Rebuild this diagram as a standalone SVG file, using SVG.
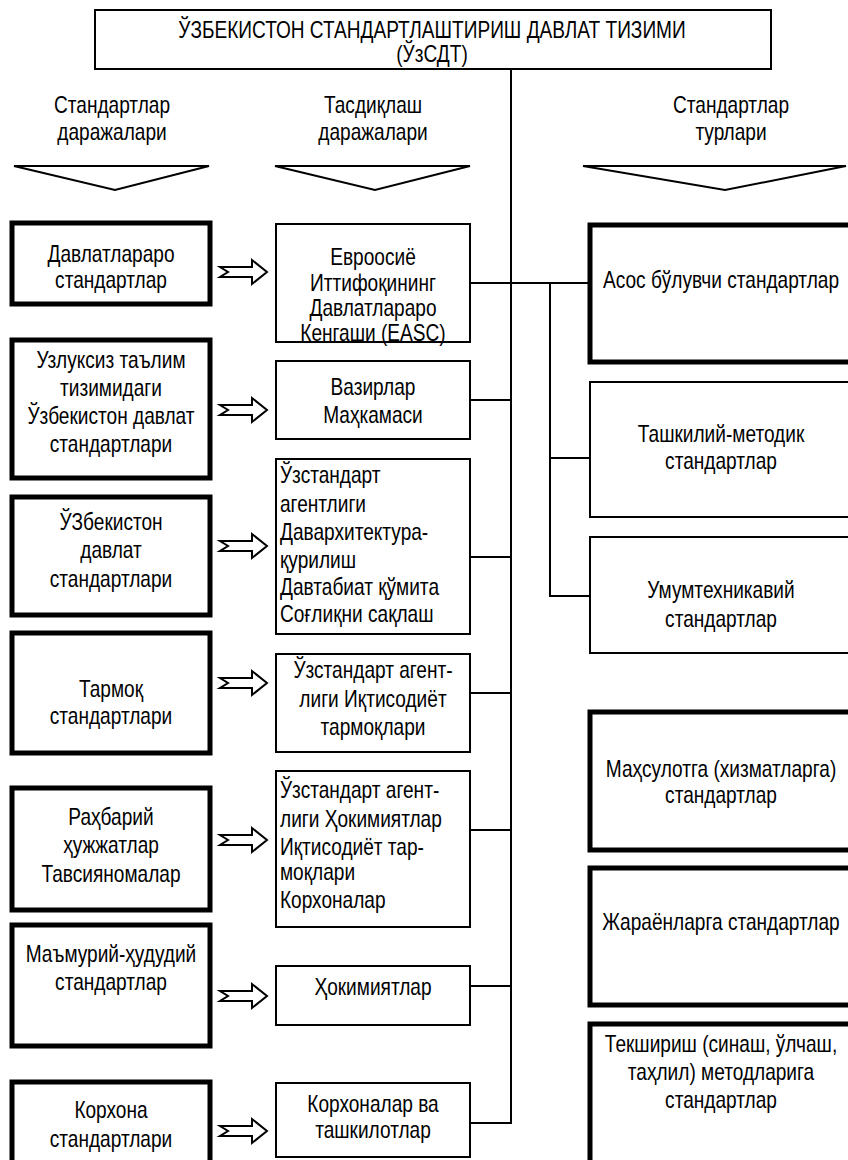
<svg xmlns="http://www.w3.org/2000/svg" width="848" height="1160" viewBox="0 0 848 1160">
<style>
text{font-family:"Liberation Sans",Arial,sans-serif;font-size:23px;fill:#000}
.c{text-anchor:middle}
.l{text-anchor:start}
.thick{fill:#fff;stroke:#000;stroke-width:5}
.thin{fill:#fff;stroke:#000;stroke-width:2}
.ln{fill:none;stroke:#000;stroke-width:2}
.tri{fill:#fff;stroke:#000;stroke-width:2;stroke-linejoin:miter}
.arr{fill:#fff;stroke:#000;stroke-width:2;stroke-linejoin:miter}
</style>
<defs>
<polygon id="dblarrow" points="0,-5 32,-5 32,-12 47,0 32,12 32,5 0,5 8,0"/>
</defs>
<rect width="848" height="1160" fill="#fff"/>

<g id="connectors">
<line class="ln" x1="511" y1="69" x2="511" y2="1124"/>
<line class="ln" x1="470" y1="283" x2="590" y2="283"/>
<line class="ln" x1="470" y1="400" x2="511" y2="400"/>
<line class="ln" x1="470" y1="557" x2="511" y2="557"/>
<line class="ln" x1="470" y1="693" x2="511" y2="693"/>
<line class="ln" x1="470" y1="830" x2="511" y2="830"/>
<line class="ln" x1="470" y1="986" x2="511" y2="986"/>
<line class="ln" x1="470" y1="1123" x2="512" y2="1123"/>
<line class="ln" x1="550" y1="283" x2="550" y2="597"/>
<line class="ln" x1="549" y1="458" x2="590" y2="458"/>
<line class="ln" x1="549" y1="596" x2="590" y2="596"/>
<use href="#dblarrow" class="arr" x="220" y="272"/>
<use href="#dblarrow" class="arr" x="220" y="410"/>
<use href="#dblarrow" class="arr" x="220" y="546"/>
<use href="#dblarrow" class="arr" x="220" y="683"/>
<use href="#dblarrow" class="arr" x="220" y="840"/>
<use href="#dblarrow" class="arr" x="220" y="996"/>
<use href="#dblarrow" class="arr" x="220" y="1131"/>
</g>

<g id="title">
<rect x="95" y="10" width="676" height="59" class="thin"/>
<text class="c" transform="translate(432 38) scale(.83 1)">ЎЗБЕКИСТОН СТАНДАРТЛАШТИРИШ ДАВЛАТ ТИЗИМИ</text>
<text class="c" transform="translate(432 62) scale(.83 1)">(ЎзСДТ)</text>
</g>

<g id="header-levels">
<text class="c" transform="translate(112 113) scale(.83 1)">Стандартлар</text>
<text class="c" transform="translate(112 140) scale(.83 1)">даражалари</text>
<polygon class="tri" points="14,166 209,166 115,190"/>
</g>
<g id="header-approval">
<text class="c" transform="translate(373 113) scale(.83 1)">Тасдиқлаш</text>
<text class="c" transform="translate(373 140) scale(.83 1)">даражалари</text>
<polygon class="tri" points="275,166 470,166 375,190"/>
</g>
<g id="header-types">
<text class="c" transform="translate(731 113) scale(.83 1)">Стандартлар</text>
<text class="c" transform="translate(731 140) scale(.83 1)">турлари</text>
<polygon class="tri" points="583,166 846,166 725,190"/>
</g>

<g id="lvl-interstate">
<rect x="12" y="223" width="198" height="81" class="thick"/>
<text class="c" transform="translate(111 262) scale(.83 1)">Давлатлараро</text>
<text class="c" transform="translate(111 288) scale(.83 1)">стандартлар</text>
</g>
<g id="lvl-education">
<rect x="12" y="340" width="198" height="138" class="thick"/>
<text class="c" transform="translate(111 368) scale(.83 1)">Узлуксиз таълим</text>
<text class="c" transform="translate(111 396) scale(.83 1)">тизимидаги</text>
<text class="c" transform="translate(111 424) scale(.83 1)">Ўзбекистон давлат</text>
<text class="c" transform="translate(111 452) scale(.83 1)">стандартлари</text>
</g>
<g id="lvl-state">
<rect x="12" y="497" width="198" height="118" class="thick"/>
<text class="c" transform="translate(111 530) scale(.83 1)">ЎЗбекистон</text>
<text class="c" transform="translate(111 558) scale(.83 1)">давлат</text>
<text class="c" transform="translate(111 587) scale(.83 1)">стандартлари</text>
</g>
<g id="lvl-branch">
<rect x="12" y="633" width="198" height="120" class="thick"/>
<text class="c" transform="translate(111 697) scale(.83 1)">Тармоқ</text>
<text class="c" transform="translate(111 724) scale(.83 1)">стандартлари</text>
</g>
<g id="lvl-guidance">
<rect x="12" y="788" width="198" height="122" class="thick"/>
<text class="c" transform="translate(111 825) scale(.83 1)">Раҳбарий</text>
<text class="c" transform="translate(111 853) scale(.83 1)">ҳужжатлар</text>
<text class="c" transform="translate(111 882) scale(.83 1)">Тавсияномалар</text>
</g>
<g id="lvl-admin">
<rect x="12" y="925" width="198" height="121" class="thick"/>
<text class="c" transform="translate(111 962) scale(.83 1)">Маъмурий-ҳудудий</text>
<text class="c" transform="translate(111 990) scale(.83 1)">стандартлар</text>
</g>
<g id="lvl-enterprise">
<rect x="12" y="1082" width="198" height="85" class="thick"/>
<text class="c" transform="translate(111 1118) scale(.83 1)">Корхона</text>
<text class="c" transform="translate(111 1147) scale(.83 1)">стандартлари</text>
</g>

<g id="app-easc">
<text class="c" transform="translate(373 265) scale(.83 1)">Евроосиё</text>
<text class="c" transform="translate(373 291) scale(.83 1)">Иттифоқининг</text>
<text class="c" transform="translate(373 316) scale(.83 1)">Давлатлараро</text>
<text class="c" transform="translate(373 341) scale(.83 1)">Кенгаши (EASC)</text>
<rect x="276" y="224" width="194" height="118" fill="none" stroke="#000" stroke-width="2"/>
</g>
<g id="app-cabinet">
<rect x="276" y="361" width="194" height="78" class="thin"/>
<text class="c" transform="translate(373 395) scale(.83 1)">Вазирлар</text>
<text class="c" transform="translate(373 423) scale(.83 1)">Маҳкамаси</text>
</g>
<g id="app-agencies">
<rect x="276" y="459" width="194" height="175" class="thin"/>
<text class="l" transform="translate(280 483) scale(.83 1)">Ўзстандарт</text>
<text class="l" transform="translate(280 512) scale(.83 1)">агентлиги</text>
<text class="l" transform="translate(280 540) scale(.83 1)">Давархитектура-</text>
<text class="l" transform="translate(280 568) scale(.83 1)">қурилиш</text>
<text class="l" transform="translate(280 595) scale(.83 1)">Давтабиат қўмита</text>
<text class="l" transform="translate(280 622) scale(.83 1)">Соғлиқни сақлаш</text>
</g>
<g id="app-branches">
<rect x="276" y="654" width="194" height="98" class="thin"/>
<text class="c" transform="translate(373 678) scale(.83 1)">Ўзстандарт агент-</text>
<text class="c" transform="translate(373 707) scale(.83 1)">лиги Иқтисодиёт</text>
<text class="c" transform="translate(373 735) scale(.83 1)">тармоқлари</text>
</g>
<g id="app-mixed">
<rect x="276" y="771" width="194" height="156" class="thin"/>
<text class="l" transform="translate(280 798) scale(.83 1)">Ўзстандарт агент-</text>
<text class="l" transform="translate(280 827) scale(.83 1)">лиги Ҳокимиятлар</text>
<text class="l" transform="translate(280 855) scale(.83 1)">Иқтисодиёт тар-</text>
<text class="l" transform="translate(280 880) scale(.83 1)">моқлари</text>
<text class="l" transform="translate(280 908) scale(.83 1)">Корхоналар</text>
</g>
<g id="app-hokim">
<rect x="276" y="966" width="194" height="59" class="thin"/>
<text class="c" transform="translate(373 995) scale(.83 1)">Ҳокимиятлар</text>
</g>
<g id="app-enterprises">
<rect x="276" y="1083" width="194" height="74" class="thin"/>
<text class="c" transform="translate(373 1112) scale(.83 1)">Корхоналар ва</text>
<text class="c" transform="translate(373 1138) scale(.83 1)">ташкилотлар</text>
</g>

<g id="type-basic">
<rect x="590" y="225" width="262" height="137" class="thick"/>
<text class="c" transform="translate(721 288) scale(.83 1)">Асос бўлувчи стандартлар</text>
</g>
<g id="type-org">
<rect x="590" y="382" width="262" height="135" class="thin"/>
<text class="c" transform="translate(721 442) scale(.83 1)">Ташкилий-методик</text>
<text class="c" transform="translate(721 469) scale(.83 1)">стандартлар</text>
</g>
<g id="type-general">
<rect x="590" y="537" width="262" height="116" class="thin"/>
<text class="c" transform="translate(721 598) scale(.83 1)">Умумтехникавий</text>
<text class="c" transform="translate(721 627) scale(.83 1)">стандартлар</text>
</g>
<g id="type-product">
<rect x="590" y="712" width="262" height="138" class="thick"/>
<text class="c" transform="translate(721 777) scale(.83 1)">Маҳсулотга (хизматларга)</text>
<text class="c" transform="translate(721 803) scale(.83 1)">стандартлар</text>
</g>
<g id="type-process">
<rect x="590" y="868" width="262" height="137" class="thick"/>
<text class="c" transform="translate(721 930) scale(.83 1)">Жараёнларга стандартлар</text>
</g>
<g id="type-methods">
<rect x="590" y="1024" width="262" height="143" class="thick"/>
<text class="c" transform="translate(721 1052) scale(.83 1)">Текшириш (синаш, ўлчаш,</text>
<text class="c" transform="translate(721 1080) scale(.83 1)">таҳлил) методларига</text>
<text class="c" transform="translate(721 1108) scale(.83 1)">стандартлар</text>
</g>
</svg>
